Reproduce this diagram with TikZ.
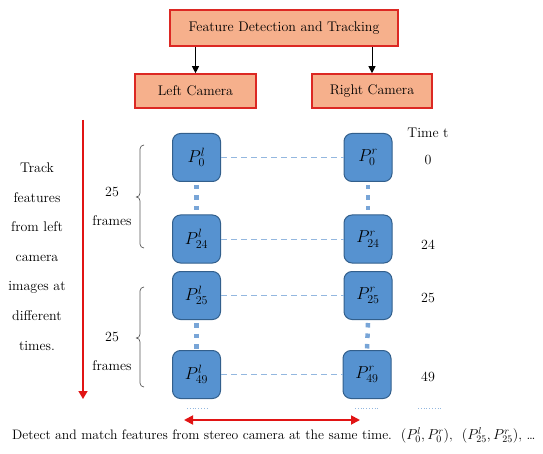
\documentclass[tikz,border=0pt]{standalone}
\usetikzlibrary{arrows.meta}
\definecolor{salmon}{RGB}{246,176,140}
\definecolor{boxred}{RGB}{220,40,35}
\definecolor{pblue}{RGB}{86,146,208}
\definecolor{pborder}{RGB}{50,95,140}
\definecolor{lblue}{RGB}{120,165,215}
\definecolor{arrred}{RGB}{225,20,20}
\begin{document}
\begin{tikzpicture}[x=1pt,y=-1pt,
  font=\fontsize{14}{16}\selectfont,
  hbox/.style={draw=boxred,fill=salmon,line width=1.6pt,minimum height=36pt,inner sep=0pt},
  pbox/.style={draw=pborder,fill=pblue,line width=1pt,rounded corners=8pt,minimum width=48pt,minimum height=48pt,inner sep=0pt,font=\fontsize{17}{19}\selectfont},
  hdash/.style={draw=lblue!80,dashed,dash pattern=on 6pt off 4pt,line width=0.9pt},
  vdot/.style={draw=lblue,line width=4.5pt,dash pattern=on 4.5pt off 6pt},
  smalldot/.style={draw=lblue!80,dotted,line width=0.8pt},
  lbl/.style={inner sep=0pt,anchor=center}]
\useasboundingbox (0,0) rectangle (543,454);
% header boxes
\node[hbox,minimum width=228pt] (fdt) at (284,28) {Feature Detection and Tracking};
\node[hbox,minimum width=121pt,minimum height=34pt] (lc) at (195.5,91) {Left Camera};
\node[hbox,minimum width=120pt,minimum height=34pt] (rc) at (372,91) {Right Camera};
\draw[-{Triangle[length=7pt,width=7pt]},line width=0.8pt] (fdt.south -| lc.north) -- (lc.north);
\draw[-{Triangle[length=7pt,width=7pt]},line width=0.8pt] (fdt.south -| rc.north) -- (rc.north);
% P boxes
\node[pbox] (l0) at (196.5,157.5) {$P^{l}_{0}$};
\node[pbox] (r0) at (368,157.5) {$P^{r}_{0}$};
\node[pbox] (l24) at (196.5,239) {$P^{l}_{24}$};
\node[pbox] (r24) at (368,239) {$P^{r}_{24}$};
\node[pbox] (l25) at (196.5,295.5) {$P^{l}_{25}$};
\node[pbox] (r25) at (368,295.5) {$P^{r}_{25}$};
\node[pbox] (l49) at (196.5,374.5) {$P^{l}_{49}$};
\node[pbox] (r49) at (367,374.5) {$P^{r}_{49}$};
% horizontal dashed
\draw[hdash] (l0.east) -- (r0.west);
\draw[hdash] (l24.east) -- (r24.west);
\draw[hdash] (l25.east) -- (r25.west);
\draw[hdash] (l49.east) -- (r49.west);
% vertical dotted
\draw[vdot] ([yshift=-3pt]l0.south) -- (l24.north);
\draw[vdot] ([yshift=-3pt]r0.south) -- (r24.north);
\draw[vdot] ([yshift=-3pt]l25.south) -- (l49.north);
\draw[vdot] ([yshift=-3pt]r25.south) -- (r49.north);
% time labels
\node[lbl] (tt) at (428,133) {Time t};
\node[lbl] (t0) at (428,160) {0};
\node[lbl] (t24) at (428,245) {24};
\node[lbl] (t25) at (428,298) {25};
\node[lbl] (t49) at (428,377) {49};
% small dotted
\coordinate (d1a) at (187,408); \coordinate (d1b) at (209,408);
\coordinate (d2a) at (355,408); \coordinate (d2b) at (378,408);
\coordinate (d3a) at (418,408); \coordinate (d3b) at (441,408);
\draw[smalldot] (d1a) -- (d1b);
\draw[smalldot] (d2a) -- (d2b);
\draw[smalldot] (d3a) -- (d3b);
% red arrows
\coordinate (va) at (83,120); \coordinate (vb) at (83,399);
\draw[arrred,line width=1.5pt,-{Triangle[length=8pt,width=9pt]}] (va) -- (vb);
\coordinate (ha) at (184,420); \coordinate (hb) at (360,420);
\draw[arrred,line width=1.8pt,{Triangle[length=9pt,width=9pt]}-{Triangle[length=9pt,width=9pt]}] (ha) -- (hb);
% left text
\node[lbl,align=center,font=\fontsize{14}{29.6}\selectfont] (track) at (37,256.5) {Track\\features\\from left\\camera\\images at\\different\\times.};
% 25 frames
\node[lbl,align=center,font=\fontsize{14}{29}\selectfont] (f1) at (112,206.5) {25\\frames};
\node[lbl,align=center,font=\fontsize{14}{29}\selectfont] (f2) at (112,351.5) {25\\frames};
% brackets
\draw[gray!70!black,line width=0.7pt] (144,145) to[out=180,in=90] (140,149) -- (140,193) to[out=-90,in=0] (136.5,197) to[out=0,in=90] (140,201) -- (140,244) to[out=-90,in=180] (144,248);
\draw[gray!70!black,line width=0.7pt] (144,287) to[out=180,in=90] (140,291) -- (140,334) to[out=-90,in=0] (136.5,338) to[out=0,in=90] (140,342) -- (140,383) to[out=-90,in=180] (144,387);
% bottom text
\node[lbl,anchor=west,font=\fontsize{13.7}{16}\selectfont] (bt) at (12,435) {Detect and match features from stereo camera at the same time.\ \ $(P^{l}_{0},P^{r}_{0})$,\ \ $(P^{l}_{25},P^{r}_{25})$, \dots};
\end{tikzpicture}
\end{document}
